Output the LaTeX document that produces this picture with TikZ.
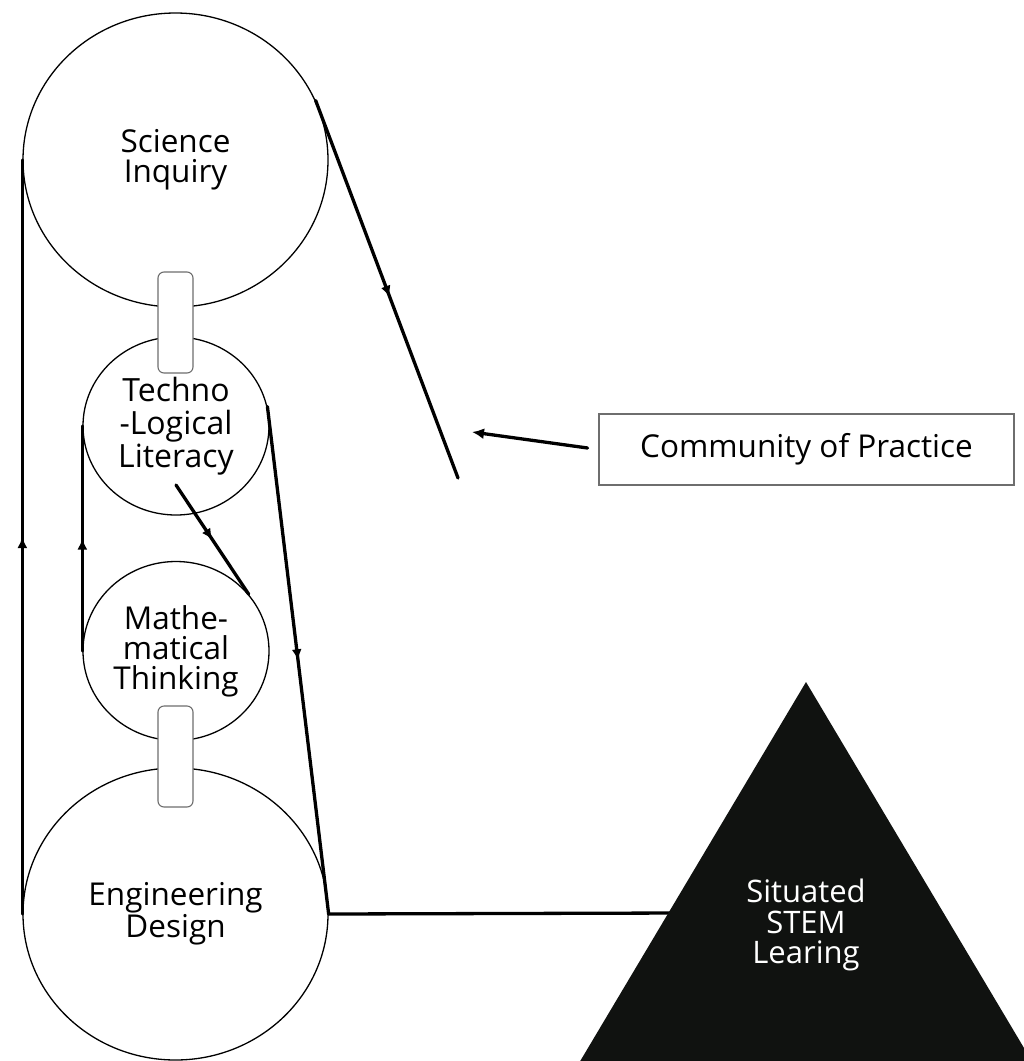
\documentclass[tikz,border=0pt]{standalone}
\usepackage{fontspec}
\setmainfont{Open Sans}
\usetikzlibrary{shapes.geometric,arrows.meta,decorations.markings,calc}

\definecolor{inkblack}{HTML}{101210}
\definecolor{framegray}{HTML}{6E6E6E}

\tikzset{
  x=1pt, y=-1pt,
  topic/.style={ellipse, draw=black, line width=1.3pt, fill=white, inner sep=0pt,
                align=center, font=\fontsize{31.5}{30}\selectfont},
  link/.style={draw=framegray, line width=1.1pt, fill=white, rounded corners=6pt},
  flow/.style={line width=3.3pt, line cap=round},
  midarrow/.style={postaction={decorate},
    decoration={markings, mark=at position #1 with {\arrow{Latex[length=11pt,width=10pt]}}}},
}

\begin{document}
\begin{tikzpicture}
  \clip (0,0) rectangle (1024,1061);
  \fill[white] (0,0) rectangle (1024,1061);

  % the four discipline circles
  \node[topic, minimum width=305pt, minimum height=294pt] (sci)  at (175.5,160) {Science\\Inquiry};
  \node[topic, minimum width=186pt, minimum height=178pt,
        font=\fontsize{32}{33}\selectfont] (tech) at (176,426) {Techno\\-Logical\\Literacy};
  \node[topic, minimum width=186pt, minimum height=179pt] (math) at (176,651) {Mathe-\\matical\\Thinking};
  \node[topic, minimum width=305pt, minimum height=292pt] (eng)  at (175.5,914) {Engineering\\Design};

  % rounded links joining neighbouring circles
  \draw[link] (158,272) rectangle (193,373);
  \draw[link] (158,706) rectangle (193,807);

  % situated learning triangle
  \coordinate (apex) at (806,682);
  \coordinate (tipin) at (680,913);
  \draw[flow] (eng.east) -- (tipin);
  \fill[inkblack] (apex) -- (557,1100) -- (1055,1100) -- cycle;
  \node[text=white, align=center, font=\fontsize{31}{30.5}\selectfont] (sit) at (806,925) {Situated\\STEM\\Learing};

  % community of practice label
  \node[draw=framegray, line width=1.1pt, minimum width=415pt, minimum height=71pt,
        font=\fontsize{31.5}{30}\selectfont] (cop) at (806.5,449.5) {Community of Practice};
  \coordinate (copend) at (472,432);
  \draw[flow, -{Latex[length=12pt,width=11pt]}, shorten <=11pt] (cop.west) -- (copend);

  % feedback loops
  \coordinate (sciend) at (458,478);
  \draw[flow, midarrow=0.52] (sci.23) -- (sciend);
  \draw[flow, midarrow=0.5] (eng.west) -- (sci.west);
  \draw[flow, midarrow=0.5] (math.west) -- (tech.west);
  \draw[flow, midarrow=0.5] (tech.12) -- (eng.east);
  \coordinate (techin) at (176,485);
  \draw[flow, midarrow=0.5] (techin) -- (math.38);
\end{tikzpicture}
\end{document}
